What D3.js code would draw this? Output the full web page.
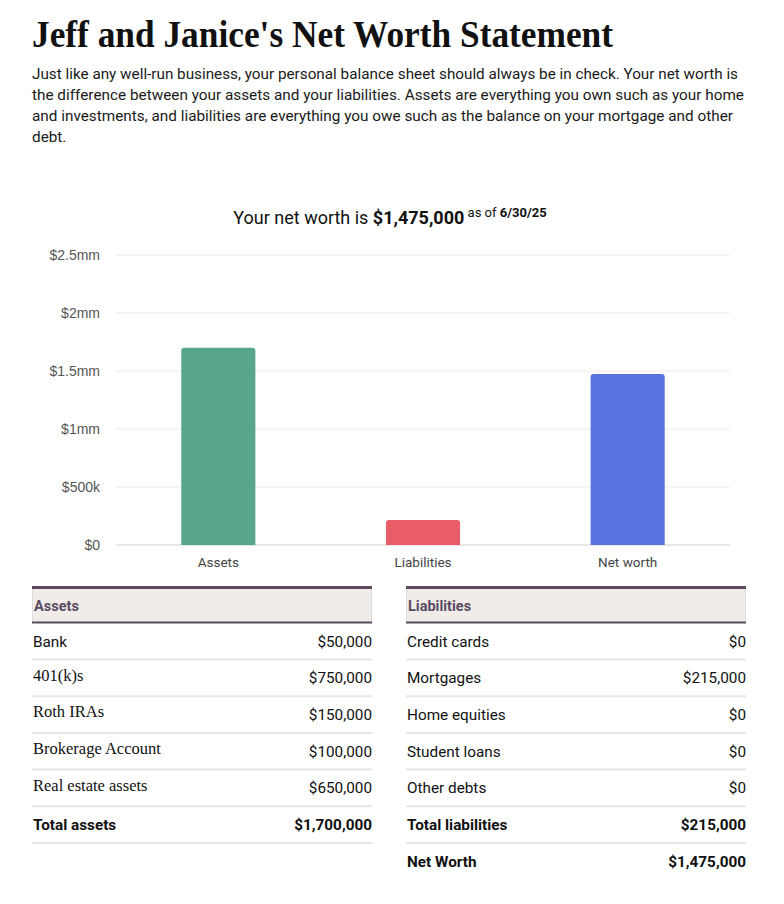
<!DOCTYPE html>
<html>
<head>
<meta charset="utf-8">
<script src="https://cdn.jsdelivr.net/npm/d3@7"></script>
<style>
  html, body { margin: 0; padding: 0; background: #fff; }
  svg { display: block; }
</style>
</head>
<body>
<svg id="page" width="784" height="904"></svg>
<script>
"use strict";

// chart data
const categories = ["Assets", "Liabilities", "Net worth"];
const totals = [1700000, 215000, 1475000];
const barColors = ["#57a58c", "#e95c68", "#5873de"];
const yTicks = [0, 500000, 1000000, 1500000, 2000000, 2500000];
const yTickLabels = ["$0", "$500k", "$1mm", "$1.5mm", "$2mm", "$2.5mm"];
const asOfDate = "6/30/25";

// table data
const assetItems = ["Bank", "401(k)s", "Roth IRAs", "Brokerage Account", "Real estate assets"];
const assetValues = [50000, 750000, 150000, 100000, 650000];
const liabilityItems = ["Credit cards", "Mortgages", "Home equities", "Student loans", "Other debts"];
const liabilityValues = [0, 215000, 0, 0, 0];

const introLines = [
    "Just like any well-run business, your personal balance sheet should always be in check. Your net worth is",
    "the difference between your assets and your liabilities. Assets are everything you own such as your home",
    "and investments, and liabilities are everything you owe such as the balance on your mortgage and other",
    "debt."
];
const introWidths = [706, 712, 701, null];

const sans = "Roboto, 'Liberation Sans', sans-serif";
const serif = "'Liberation Serif', 'DejaVu Serif', serif";
const money = d3.format("$,");

const svg = d3.select("#page");

// heading
svg.append("text")
    .attr("x", 32).attr("y", 47)
    .attr("font-family", serif)
    .attr("font-weight", "bold")
    .attr("font-size", 38)
    .attr("textLength", 581)
    .attr("lengthAdjust", "spacingAndGlyphs")
    .attr("fill", "#111")
    .text("Jeff and Janice's Net Worth Statement");

svg.selectAll(".intro")
    .data(introLines)
    .enter().append("text")
    .attr("class", "intro")
    .attr("x", 32)
    .attr("y", (d, i) => 79 + i * 21)
    .attr("font-family", sans)
    .attr("font-size", 15.3)
    .attr("fill", "#1a1a1a")
    .each(function (d, i) {
        if (introWidths[i]) d3.select(this).attr("textLength", introWidths[i]).attr("lengthAdjust", "spacingAndGlyphs");
    })
    .text(d => d);

// chart title
const title = svg.append("text")
    .attr("x", 390).attr("y", 224)
    .attr("text-anchor", "middle")
    .attr("font-family", sans)
    .attr("font-size", 18)
    .attr("fill", "#111");
title.append("tspan").text("Your net worth is ");
title.append("tspan").attr("font-weight", "bold").text(money(totals[2]));
title.append("tspan").attr("font-size", 13).attr("dy", -7).text(" as of ");
title.append("tspan").attr("font-size", 13).attr("font-weight", "bold").text(asOfDate);

// bar chart
const plotLeft = 116, plotRight = 730, plotTop = 255, plotBottom = 545;

const x = d3.scaleBand()
    .domain(categories)
    .range([plotLeft, plotRight])
    .paddingInner(0.638)
    .paddingOuter(0.319);

const y = d3.scaleLinear()
    .domain([0, 2500000])
    .range([plotBottom, plotTop]);

const chart = svg.append("g");

chart.selectAll(".grid")
    .data(yTicks)
    .enter().append("line")
    .attr("class", "grid")
    .attr("x1", plotLeft).attr("x2", plotRight)
    .attr("y1", d => y(d)).attr("y2", d => y(d))
    .attr("stroke", d => d === 0 ? "#cfcfcf" : "#ebebe6")
    .attr("stroke-width", 1);

chart.selectAll(".ylabel")
    .data(yTicks)
    .enter().append("text")
    .attr("class", "ylabel")
    .attr("x", 100)
    .attr("y", d => y(d) + 5)
    .attr("text-anchor", "end")
    .attr("font-family", "'Liberation Sans', Arial, sans-serif")
    .attr("font-size", 14)
    .attr("fill", "#555")
    .text((d, i) => yTickLabels[i]);

const r = 3;
chart.selectAll(".bar")
    .data(totals)
    .enter().append("path")
    .attr("class", "bar")
    .attr("fill", (d, i) => barColors[i])
    .attr("d", (d, i) => {
        const x0 = x(categories[i]), w = x.bandwidth();
        const top = y(d), bottom = y(0);
        return `M${x0},${bottom}V${top + r}Q${x0},${top} ${x0 + r},${top}` +
            `H${x0 + w - r}Q${x0 + w},${top} ${x0 + w},${top + r}V${bottom}Z`;
    });

chart.selectAll(".xlabel")
    .data(categories)
    .enter().append("text")
    .attr("class", "xlabel")
    .attr("x", d => x(d) + x.bandwidth() / 2)
    .attr("y", 567)
    .attr("text-anchor", "middle")
    .attr("font-family", sans)
    .attr("font-size", 13.5)
    .attr("fill", "#444")
    .text(d => d);

// tables
const rowStep = 36.7;
const firstRow = 641;

function drawTable(left, right, heading, rows) {
    const g = svg.append("g");
    g.append("rect")
        .attr("x", left + 0.5).attr("y", 588)
        .attr("width", right - left - 1).attr("height", 34)
        .attr("fill", "#f0ede8")
        .attr("stroke", "#dcdcdc")
        .attr("stroke-width", 1);
    g.append("line")
        .attr("x1", left).attr("x2", right).attr("y1", 587.5).attr("y2", 587.5)
        .attr("stroke", "#5b4a60").attr("stroke-width", 3);
    g.append("line")
        .attr("x1", left).attr("x2", right).attr("y1", 622.5).attr("y2", 622.5)
        .attr("stroke", "#5b4a60").attr("stroke-width", 2);
    g.append("text")
        .attr("x", left + 2).attr("y", 611)
        .attr("font-family", sans)
        .attr("font-weight", "bold")
        .attr("font-size", 14.5)
        .attr("fill", "#5b4a63")
        .text(heading);

    rows.forEach((row, i) => {
        const cy = firstRow + i * rowStep;
        g.append("text")
            .attr("x", left + 1).attr("y", row.serif ? cy + 3 : cy + 5.5)
            .attr("font-family", row.serif ? serif : sans)
            .attr("font-size", row.serif ? 16.5 : 15.3)
            .attr("font-weight", row.bold ? "bold" : "normal")
            .attr("fill", "#111")
            .text(row.label);
        g.append("text")
            .attr("x", right).attr("y", cy + 5.5)
            .attr("text-anchor", "end")
            .attr("font-family", sans)
            .attr("font-size", 15.3)
            .attr("font-weight", row.bold ? "bold" : "normal")
            .attr("fill", "#111")
            .text(money(row.value));
        if (row.line) {
            g.append("line")
                .attr("x1", left).attr("x2", right)
                .attr("y1", cy + 18.5).attr("y2", cy + 18.5)
                .attr("stroke", "#e6e6e6").attr("stroke-width", 2);
        }
    });
}

const assetRows = assetItems.map((d, i) => ({
    label: d, value: assetValues[i], serif: i > 0, line: true
}));
assetRows.push({ label: "Total assets", value: totals[0], bold: true, line: true });

const liabilityRows = liabilityItems.map((d, i) => ({
    label: d, value: liabilityValues[i], line: true
}));
liabilityRows.push({ label: "Total liabilities", value: totals[1], bold: true, line: true });
liabilityRows.push({ label: "Net Worth", value: totals[2], bold: true, line: false });

drawTable(32, 372, "Assets", assetRows);
drawTable(406, 746, "Liabilities", liabilityRows);
</script>
</body>
</html>
